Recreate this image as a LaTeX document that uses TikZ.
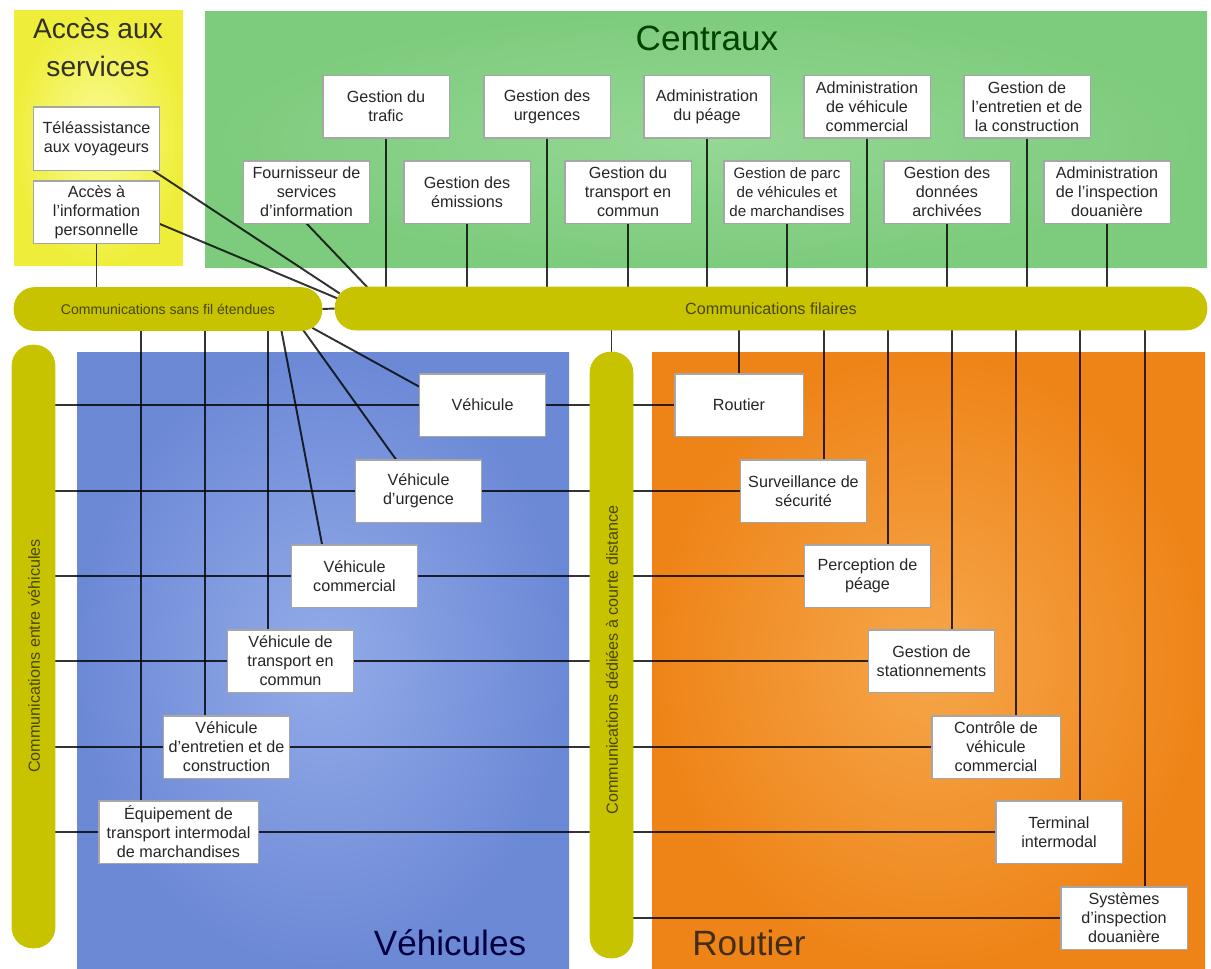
\documentclass[tikz,border=0pt]{standalone}
\usepackage{fontspec}
\setmainfont{Liberation Sans}
\usetikzlibrary{calc}

\definecolor{barolive}{HTML}{C8C300}
\definecolor{barink}{HTML}{4A4600}
\definecolor{accesin}{HTML}{FBFB9A}
\definecolor{accesout}{HTML}{EEEE3A}
\definecolor{centin}{HTML}{94D894}
\definecolor{centout}{HTML}{7DCB7D}
\definecolor{vehin}{HTML}{93ABE8}
\definecolor{vehout}{HTML}{6C89D6}
\definecolor{routin}{HTML}{F6A64A}
\definecolor{routout}{HTML}{EE8418}

\begin{document}
\begin{tikzpicture}[x=0.02cm,y=-0.02cm,
  box/.style={draw=black!35, line width=0.5pt, fill=white, inner sep=1pt,
    minimum width=2.52cm, minimum height=1.24cm, align=center,
    font=\fontsize{9.2}{10.8}\selectfont, text=black!85},
  bar/.style={fill=barolive, rounded corners=0.42cm, inner sep=0pt, draw=none},
  barlabel/.style={font=\fontsize{9.2}{10}\selectfont, text=barink, inner sep=0pt},
  link/.style={draw=black, line width=1.1pt, opacity=0.8},
  title/.style={font=\fontsize{20}{24}\selectfont, inner sep=0pt}
]
\useasboundingbox (0,0) rectangle (1211,968);

% ---- domain backgrounds
\shade[inner color=accesin, outer color=accesout] (14,10) rectangle (183,265);
\shade[inner color=centin, outer color=centout] (205,11) rectangle (1207,267);
\shade[inner color=vehin, outer color=vehout] (77,352) rectangle (569,968);
\shade[inner color=routin, outer color=routout] (652,352) rectangle (1205,968);

% ---- titles
\node[font=\fontsize{16}{21.5}\selectfont, align=center, text=black!85!olive] at (98,47) {Accès aux\\services};
\node[title, text=green!25!black] at (707,38) {Centraux};
\node[title, text=blue!25!black] at (450,943) {Véhicules};
\node[title, text=brown!35!black] at (749,943) {Routier};

% ---- bar centres
\path (168,309) coordinate (sfc) (771,308.5) coordinate (filc)
      (33.5,646.5) coordinate (lbarc) (611.5,655) coordinate (mbarc);

% ---- communication bars (named, used as link ends)
\node[bar, minimum width=6.16cm, minimum height=0.86cm] (sf) at (sfc) {};
\node[bar, minimum width=17.44cm, minimum height=0.86cm] (fil) at (filc) {};
\node[bar, minimum width=0.86cm, minimum height=12.06cm] (lbar) at (lbarc) {};
\node[bar, minimum width=0.86cm, minimum height=12.12cm] (mbar) at (mbarc) {};

% ---- boxes: access to services
\node[box, minimum height=1.26cm] (tele) at (96.5,138.5) {Téléassistance\\aux voyageurs};
\node[box] (acc) at (96.5,212) {Accès à\\l'information\\personnelle};

% ---- boxes: centres, upper row
\node[box] (traf) at (386,106.5) {Gestion du\\trafic};
\node[box] (urgc) at (547,106.5) {Gestion des\\urgences};
\node[box] (peage) at (707,106.5) {Administration\\du péage};
\node[box] (admvc) at (867,106.5) {Administration\\de véhicule\\commercial};
\node[box] (entr) at (1027,106.5) {Gestion de\\l'entretien et de\\la construction};
% ---- boxes: centres, lower row
\node[box] (fourn) at (306.5,192) {Fournisseur de\\services\\d'information};
\node[box] (emis) at (467,192) {Gestion des\\émissions};
\node[box] (tc) at (628,192) {Gestion du\\transport en\\commun};
\node[box, font=\fontsize{8.6}{10.8}\selectfont] (parc) at (787,192) {Gestion de parc\\de véhicules et\\de marchandises};
\node[box] (donn) at (947,192) {Gestion des\\données\\archivées};
\node[box] (insp) at (1107,192) {Administration\\de l'inspection\\douanière};

% ---- boxes: vehicles
\node[box] (veh) at (482.5,405) {Véhicule};
\node[box] (vurg) at (418.5,491) {Véhicule\\d'urgence};
\node[box] (vcom) at (354.5,576) {Véhicule\\commercial};
\node[box] (vtc) at (290.5,661) {Véhicule de\\transport en\\commun};
\node[box] (ventr) at (226.5,747) {Véhicule\\d'entretien et de\\construction};
\node[box, minimum width=3.18cm] (equip) at (178.5,832) {Équipement de\\transport intermodal\\de marchandises};

% ---- boxes: roadside
\node[box, minimum width=2.56cm] (rout) at (739,405) {Routier};
\node[box] (surv) at (803.5,491) {Surveillance de\\sécurité};
\node[box] (perc) at (867.5,576) {Perception de\\péage};
\node[box] (stat) at (931.5,661) {Gestion de\\stationnements};
\node[box, minimum width=2.56cm] (ctrl) at (996,747) {Contrôle de\\véhicule\\commercial};
\node[box] (term) at (1059,832) {Terminal\\intermodal};
\node[box] (sys) at (1124,918) {Systèmes\\d'inspection\\douanière};

% ---- links
% access to services
\draw[link] ([shift={(-7,0)}]tele.south east) -- ([shift={(5,-15)}]fil.west);
\draw[link] ([shift={(0,12)}]acc.east) -- ([shift={(3,-10)}]fil.west);
\draw[link] (acc.south) -- (acc.south |- sf.north);
% centres to wireline
\draw[link] (fourn.south) -- ([shift={(33,1)}]fil.north west);
\foreach \b in {traf,urgc,peage,admvc,entr,emis,tc,parc,donn,insp}
  \draw[link] (\b.south) -- (\b.south |- fil.north);
% bar to bar
\draw[link] (sf.east) -- (fil.west);
\draw[link] (mbar.north |- fil.south) -- (mbar.north);
% wide-area wireless to vehicles
\draw[link] ([shift={(42,0)}]equip.north west) coordinate (e1) -- (e1 |- sf.south);
\draw[link] ([shift={(42,0)}]ventr.north west) coordinate (e2) -- (e2 |- sf.south);
\draw[link] ([shift={(41,0)}]vtc.north west) coordinate (e3) -- (e3 |- sf.south);
\draw[link] ([shift={(31,0)}]vcom.north west) -- ([shift={(-41,-1)}]sf.south east);
\draw[link] ([shift={(41,0)}]vurg.north west) -- ([shift={(-20,-2)}]sf.south east);
\draw[link] ([shift={(0,13)}]veh.north west) -- ([shift={(-10,-3)}]sf.south east);
% wireline to roadside
\draw[link] (rout.north) -- (rout.north |- fil.south);
\foreach \b in {surv,perc,stat,ctrl,term,sys}
  \draw[link] ([shift={(84,0)}]\b.north west) coordinate (t) -- (t |- fil.south);
% vehicle-to-vehicle and short range rows
\foreach \l/\r in {veh/rout,vurg/surv,vcom/perc,vtc/stat,ventr/ctrl,equip/term}{
  \draw[link] (lbar.east |- \l.west) -- (\l.west);
  \draw[link] (\l.east) -- (mbar.west |- \l.east);
  \draw[link] (mbar.east |- \r.west) -- (\r.west);
}
\draw[link] (mbar.east |- sys.west) -- (sys.west);

% ---- bars painted again over the link ends
\fill[barolive, rounded corners=0.42cm] (sf.north west) rectangle (sf.south east);
\fill[barolive, rounded corners=0.42cm] (fil.north west) rectangle (fil.south east);
\fill[barolive, rounded corners=0.42cm] (lbar.north west) rectangle (lbar.south east);
\fill[barolive, rounded corners=0.42cm] (mbar.north west) rectangle (mbar.south east);

\node[barlabel, font=\fontsize{8}{10}\selectfont] at (sf) {Communications sans fil étendues};
\node[barlabel] at (fil) {Communications filaires};
\node[barlabel, rotate=90] at (34,656) {Communications entre véhicules};
\node[barlabel, rotate=90] at (612,660) {Communications dédiées à courte distance};

\foreach \b in {tele,acc,traf,urgc,peage,admvc,entr,fourn,emis,tc,parc,donn,insp,
                veh,vurg,vcom,vtc,ventr,equip,rout,surv,perc,stat,ctrl,term,sys}
  \draw[draw=black!35, line width=0.5pt] (\b.north west) rectangle (\b.south east);
\end{tikzpicture}
\end{document}
